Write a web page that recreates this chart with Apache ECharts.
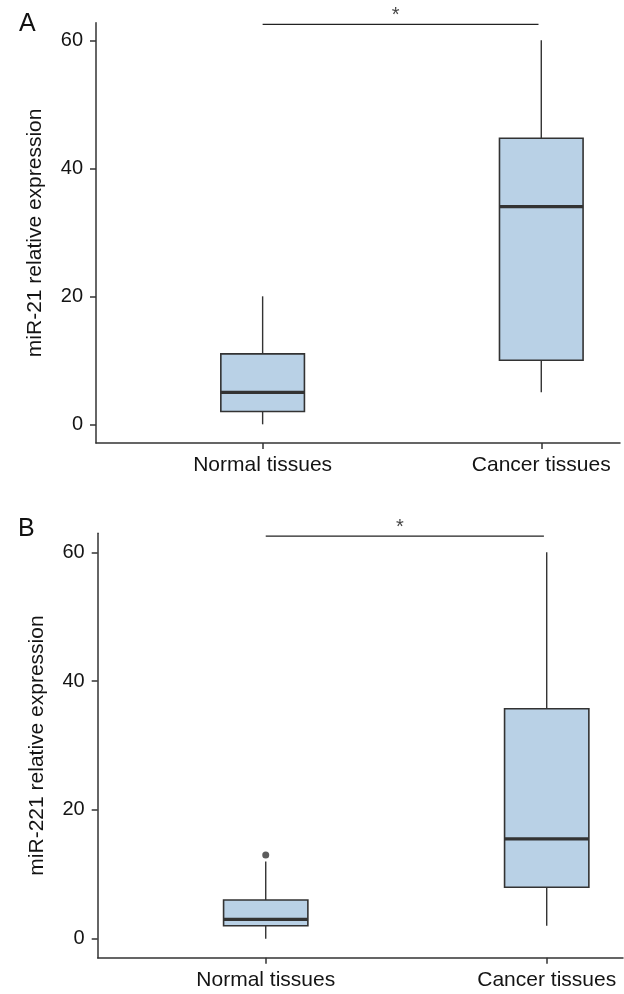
<!DOCTYPE html>
<html><head><meta charset="utf-8">
<script src="https://cdn.jsdelivr.net/npm/echarts@6/dist/echarts.min.js"></script>
<style>html,body{margin:0;padding:0;background:#fff}#c{width:624px;height:994px}</style>
</head><body><div id="c"></div>
<script>
// ---- data ----
const categories = ['Normal tissues', 'Cancer tissues'];
const yTicks = [0, 20, 40, 60];
// each box: [min, Q1, median, Q3, max]
const mir21Normal = [0, 2, 5, 11, 20];
const mir21Cancer = [5, 10, 34, 44.7, 60];
const mir221Normal = [0, 2, 3, 6, 12];
const mir221Cancer = [2, 8, 15.5, 35.7, 60];
const mir221NormalOutliers = [13];
const bracketX = [0, 0.99];
const bracketY = 62.5;
const sigLabel = '*';
const panelLetters = ['A', 'B'];
const yTitles = ['miR-21 relative expression', 'miR-221 relative expression'];

// ---- chart ----
const FONT = 'Liberation Sans, Arial, Helvetica, sans-serif';
const INK = '#333';
const FILL = '#b9d1e6';
const TXT = '#141414';

function renderBox(params, api) {
  const x = api.value(0);
  const lo = api.coord([x, api.value(1)]);
  const q1 = api.coord([x, api.value(2)]);
  const md = api.coord([x, api.value(3)]);
  const q3 = api.coord([x, api.value(4)]);
  const hi = api.coord([x, api.value(5)]);
  const w = api.size([0.3, 0])[0];
  const cx = md[0];
  return {
    type: 'group',
    children: [
      {type: 'line', shape: {x1: cx, y1: lo[1], x2: cx, y2: q1[1]}, style: {stroke: INK, lineWidth: 1.4}},
      {type: 'line', shape: {x1: cx, y1: q3[1], x2: cx, y2: hi[1]}, style: {stroke: INK, lineWidth: 1.4}},
      {type: 'rect', shape: {x: cx - w / 2, y: q3[1], width: w, height: q1[1] - q3[1]},
        style: {fill: FILL, stroke: INK, lineWidth: 1.6}},
      {type: 'line', shape: {x1: cx - w / 2, y1: md[1], x2: cx + w / 2, y2: md[1]}, style: {stroke: INK, lineWidth: 3.3}}
    ]
  };
}

const grids = [
  {left: 96, top: 22.7, width: 524, height: 420.3},
  {left: 97.7, top: 533.3, width: 525.3, height: 424.4}
];
const xRanges = [[-0.598, 1.2825], [-0.598, 1.2715]];
const yRanges = [[-2.92, 62.75], [-2.95, 62.95]];

const xAxes = grids.map((g, i) => ({
  type: 'value', gridIndex: i, min: xRanges[i][0], max: xRanges[i][1],
  axisLine: {show: true, onZero: false, lineStyle: {color: INK, width: 1.5}},
  axisTick: {show: true, customValues: [0, 1], length: 6, lineStyle: {color: INK, width: 1.5}},
  axisLabel: {show: true, customValues: [0, 1], formatter: v => categories[Math.round(v)],
    margin: 12, fontSize: 21, color: TXT, fontFamily: FONT},
  splitLine: {show: false}
}));
const yAxes = grids.map((g, i) => ({
  type: 'value', gridIndex: i, min: yRanges[i][0], max: yRanges[i][1],
  name: yTitles[i], nameLocation: 'middle', nameGap: 50,
  nameTextStyle: {fontSize: 21, color: TXT, fontFamily: FONT},
  axisLine: {show: true, onZero: false, lineStyle: {color: INK, width: 1.5}},
  axisTick: {show: true, customValues: yTicks, length: 6, lineStyle: {color: INK, width: 1.5}},
  axisLabel: {show: true, customValues: yTicks, margin: 13, fontSize: 20, color: TXT, fontFamily: FONT},
  splitLine: {show: false}
}));

const boxSets = [[mir21Normal, mir21Cancer], [mir221Normal, mir221Cancer]];
const series = [];
boxSets.forEach((set, i) => {
  series.push({
    type: 'custom', xAxisIndex: i, yAxisIndex: i,
    renderItem: renderBox,
    encode: {x: 0, y: [1, 2, 3, 4, 5]},
    data: set.map((b, k) => [k].concat(b)),
    silent: true
  });
  series.push({
    type: 'line', xAxisIndex: i, yAxisIndex: i, symbol: 'none', silent: true,
    data: bracketX.map(x => [x, bracketY]),
    lineStyle: {color: '#222', width: 1.3}
  });
  series.push({
    type: 'scatter', xAxisIndex: i, yAxisIndex: i, symbolSize: 0, silent: true,
    data: [[(bracketX[0] + bracketX[1]) / 2, bracketY]],
    label: {show: true, formatter: sigLabel, position: 'top', distance: 0, offset: [-5, 1],
      fontSize: 20, color: '#111', fontFamily: FONT}
  });
});
series.push({
  type: 'scatter', xAxisIndex: 1, yAxisIndex: 1, symbolSize: 7, silent: true,
  itemStyle: {color: INK},
  data: mir221NormalOutliers.map(v => [0, v])
});

const chart = echarts.init(document.getElementById('c'), null, {renderer: 'canvas'});
chart.setOption({
  animation: false,
  backgroundColor: '#fff',
  title: [
    {text: panelLetters[0], left: 14, top: 7, textStyle: {fontSize: 25, fontWeight: 'normal', color: '#111', fontFamily: FONT}},
    {text: panelLetters[1], left: 13, top: 512, textStyle: {fontSize: 25, fontWeight: 'normal', color: '#111', fontFamily: FONT}}
  ],
  grid: grids,
  xAxis: xAxes,
  yAxis: yAxes,
  series: series
});
</script></body></html>
